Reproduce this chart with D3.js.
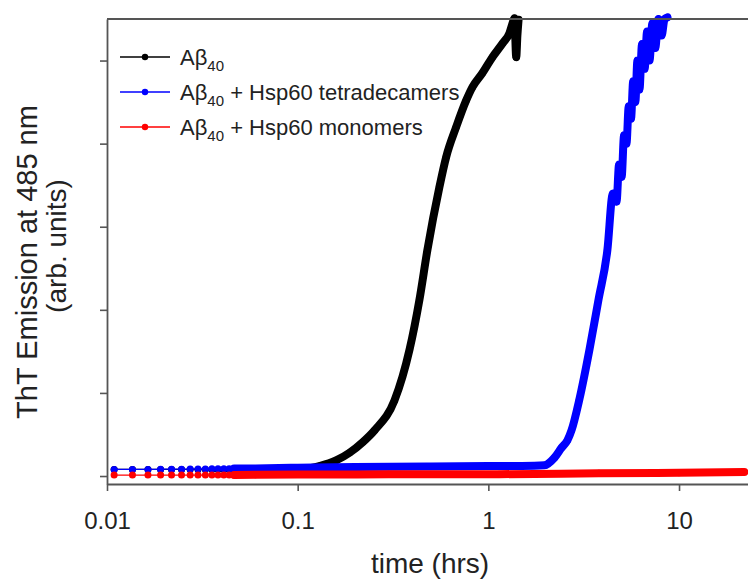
<!DOCTYPE html>
<html>
<head>
<meta charset="utf-8">
<script src="https://cdn.jsdelivr.net/npm/d3@7"></script>
<style>
  body { margin: 0; background: #fff; }
  svg { display: block; font-family: "Liberation Sans", Arial, sans-serif; }
</style>
</head>
<body>
<svg></svg>
<script>
// values (time in hrs, emission in arb. units, 1 unit = 1 y tick)
const blackTime = [0.0109, 0.0136, 0.0164, 0.0191, 0.0218, 0.0246, 0.0273, 0.0300, 0.0328, 0.0355, 0.0382, 0.0410, 0.0437, 0.0464,
  0.06, 0.085, 0.109, 0.13, 0.16, 0.187, 0.22, 0.253, 0.322, 0.386, 0.435, 0.479, 0.554, 0.601, 0.678, 0.765,
  0.825, 0.931, 1.05, 1.19, 1.29, 1.34, 1.37, 1.40, 1.42, 1.44];
const blackValue = [0.08, 0.08, 0.08, 0.08, 0.08, 0.08, 0.08, 0.08, 0.08, 0.08, 0.08, 0.08, 0.08, 0.08,
  0.08, 0.085, 0.09, 0.12, 0.19, 0.28, 0.41, 0.55, 0.91, 1.52, 2.12, 2.72, 3.48, 3.84, 4.2, 4.52,
  4.68, 4.85, 5.04, 5.21, 5.33, 5.45, 5.51, 5.04, 5.3, 5.49];

const blueTime = [0.0109, 0.0136, 0.0164, 0.0191, 0.0218, 0.0246, 0.0273, 0.0300, 0.0328, 0.0355, 0.0382, 0.0410, 0.0437, 0.0464,
  0.06, 0.1, 0.2, 0.5, 1.0, 1.5, 1.97, 2.22, 2.42, 2.6, 2.73, 3.0, 3.39, 3.78, 4.21, 4.5,
  4.7, 4.85, 5.0, 5.15, 5.3, 5.45, 5.6, 5.75, 5.9, 6.05, 6.2, 6.4, 6.6, 6.8, 7.0, 7.25,
  7.5, 7.8, 8.1, 8.4, 8.7];
const blueValue = [0.08, 0.08, 0.08, 0.082, 0.082, 0.083, 0.084, 0.085, 0.086, 0.087, 0.088, 0.088, 0.089, 0.09,
  0.092, 0.1, 0.11, 0.115, 0.12, 0.122, 0.13, 0.22, 0.34, 0.43, 0.55, 0.92, 1.52, 2.12, 2.72, 3.4,
  3.3, 3.75, 3.6, 4.1, 4.0, 4.45, 4.3, 4.75, 4.5, 5.0, 4.65, 5.2, 4.9, 5.35, 5.0, 5.45,
  5.15, 5.5, 5.3, 5.5, 5.52];

const redTime = [0.0109, 0.0136, 0.0164, 0.0191, 0.0218, 0.0246, 0.0273, 0.0300, 0.0328, 0.0355, 0.0382, 0.0410, 0.0437, 0.0464,
  0.06, 0.1, 0.3, 1.14, 3.8, 10, 22];
const redValue = [0.012, 0.012, 0.012, 0.012, 0.012, 0.012, 0.012, 0.012, 0.012, 0.012, 0.012, 0.012, 0.012, 0.012,
  0.014, 0.018, 0.02, 0.022, 0.032, 0.04, 0.048];

const seriesSuffix = ["", " + Hsp60 tetradecamers", " + Hsp60 monomers"];
const seriesColour = ["#000000", "#0000ff", "#ff0000"];
const xTicks = [0.01, 0.1, 1, 10];
const yTicks = [0, 1, 2, 3, 4, 5];

const series = [
  { time: blackTime, value: blackValue },
  { time: blueTime, value: blueValue },
  { time: redTime, value: redValue },
];

const width = 748;
const height = 579;
const plotLeft = 107, plotRight = 748, plotTop = 19, plotBottom = 484;

const svg = d3.select("svg")
    .attr("width", width)
    .attr("height", height);

const x = d3.scaleLog().domain([0.01, 23]).range([plotLeft, plotRight]);
const y = d3.scaleLinear().domain([-0.096, 5.5]).range([plotBottom, plotTop]);

const axisColour = "#555";

// data first, axes drawn over
const line = d3.line()
    .x(d => x(d[0]))
    .y(d => y(d[1]))
    .curve(d3.curveMonotoneX);

series.forEach((s, i) => {
  const pts = s.time.map((t, j) => [t, s.value[j]]);
  const g = svg.append("g");
  // thin connecting line
  g.append("path")
    .attr("d", line(pts))
    .attr("fill", "none")
    .attr("stroke", seriesColour[i])
    .attr("stroke-width", 1.3);
  // where the markers run together they form a solid band
  g.append("path")
    .attr("d", line(pts.filter(d => d[0] >= 0.045)))
    .attr("fill", "none")
    .attr("stroke", seriesColour[i])
    .attr("stroke-width", 8)
    .attr("stroke-linecap", "round")
    .attr("stroke-linejoin", "round");
  g.selectAll("circle")
    .data(pts)
    .enter()
    .append("circle")
    .attr("cx", d => x(d[0]))
    .attr("cy", d => y(d[1]))
    .attr("r", 3.5)
    .attr("fill", seriesColour[i]);
});

// x axis
const xAxis = svg.append("g")
    .attr("transform", `translate(0,${plotBottom})`)
    .call(d3.axisBottom(x).tickValues(xTicks).tickFormat(d3.format("~g")).tickSize(7).tickSizeOuter(0));
xAxis.select(".domain").attr("stroke", axisColour).attr("stroke-width", 1.8);
xAxis.selectAll(".tick line").attr("stroke", axisColour).attr("stroke-width", 1.6);
xAxis.selectAll(".tick text")
    .attr("y", 45)
    .attr("dy", "0")
    .attr("font-size", 24)
    .attr("font-family", "Liberation Sans, Arial, sans-serif")
    .attr("fill", "#222");

// y axis, no labels
const yAxis = svg.append("g")
    .attr("transform", `translate(${plotLeft},0)`)
    .call(d3.axisLeft(y).tickValues(yTicks).tickFormat("").tickSize(7).tickSizeOuter(0));
yAxis.select(".domain").attr("stroke", axisColour).attr("stroke-width", 1.8);
yAxis.selectAll(".tick line").attr("stroke", axisColour).attr("stroke-width", 1.6);

// top frame
svg.append("line")
    .attr("x1", plotLeft).attr("x2", plotRight)
    .attr("y1", plotTop).attr("y2", plotTop)
    .attr("stroke", axisColour)
    .attr("stroke-width", 1.8);

// axis titles
svg.append("text")
    .attr("x", 430).attr("y", 573)
    .attr("text-anchor", "middle")
    .attr("font-size", 28)
    .attr("fill", "#222")
    .text("time (hrs)");

svg.append("text")
    .attr("transform", "translate(37,262) rotate(-90)")
    .attr("text-anchor", "middle")
    .attr("font-size", 29)
    .attr("fill", "#222")
    .text("ThT Emission at 485 nm");

svg.append("text")
    .attr("transform", "translate(66,246) rotate(-90)")
    .attr("text-anchor", "middle")
    .attr("font-size", 28)
    .attr("fill", "#222")
    .text("(arb. units)");

// legend
const legend = svg.append("g");
seriesSuffix.forEach((suffix, i) => {
  const ly = 57 + i * 35;
  legend.append("line")
    .attr("x1", 120).attr("x2", 170)
    .attr("y1", ly).attr("y2", ly)
    .attr("stroke", seriesColour[i])
    .attr("stroke-width", 1.5);
  legend.append("circle")
    .attr("cx", 145).attr("cy", ly)
    .attr("r", 3.2)
    .attr("fill", seriesColour[i]);
  const label = legend.append("text")
    .attr("x", 180).attr("y", ly + 8)
    .attr("font-size", 22)
    .attr("fill", "#222");
  label.append("tspan").text("Aβ");
  label.append("tspan").attr("dy", 6).attr("font-size", 15).text("40");
  label.append("tspan").attr("dy", -6).text(suffix);
});
</script>
</body>
</html>
